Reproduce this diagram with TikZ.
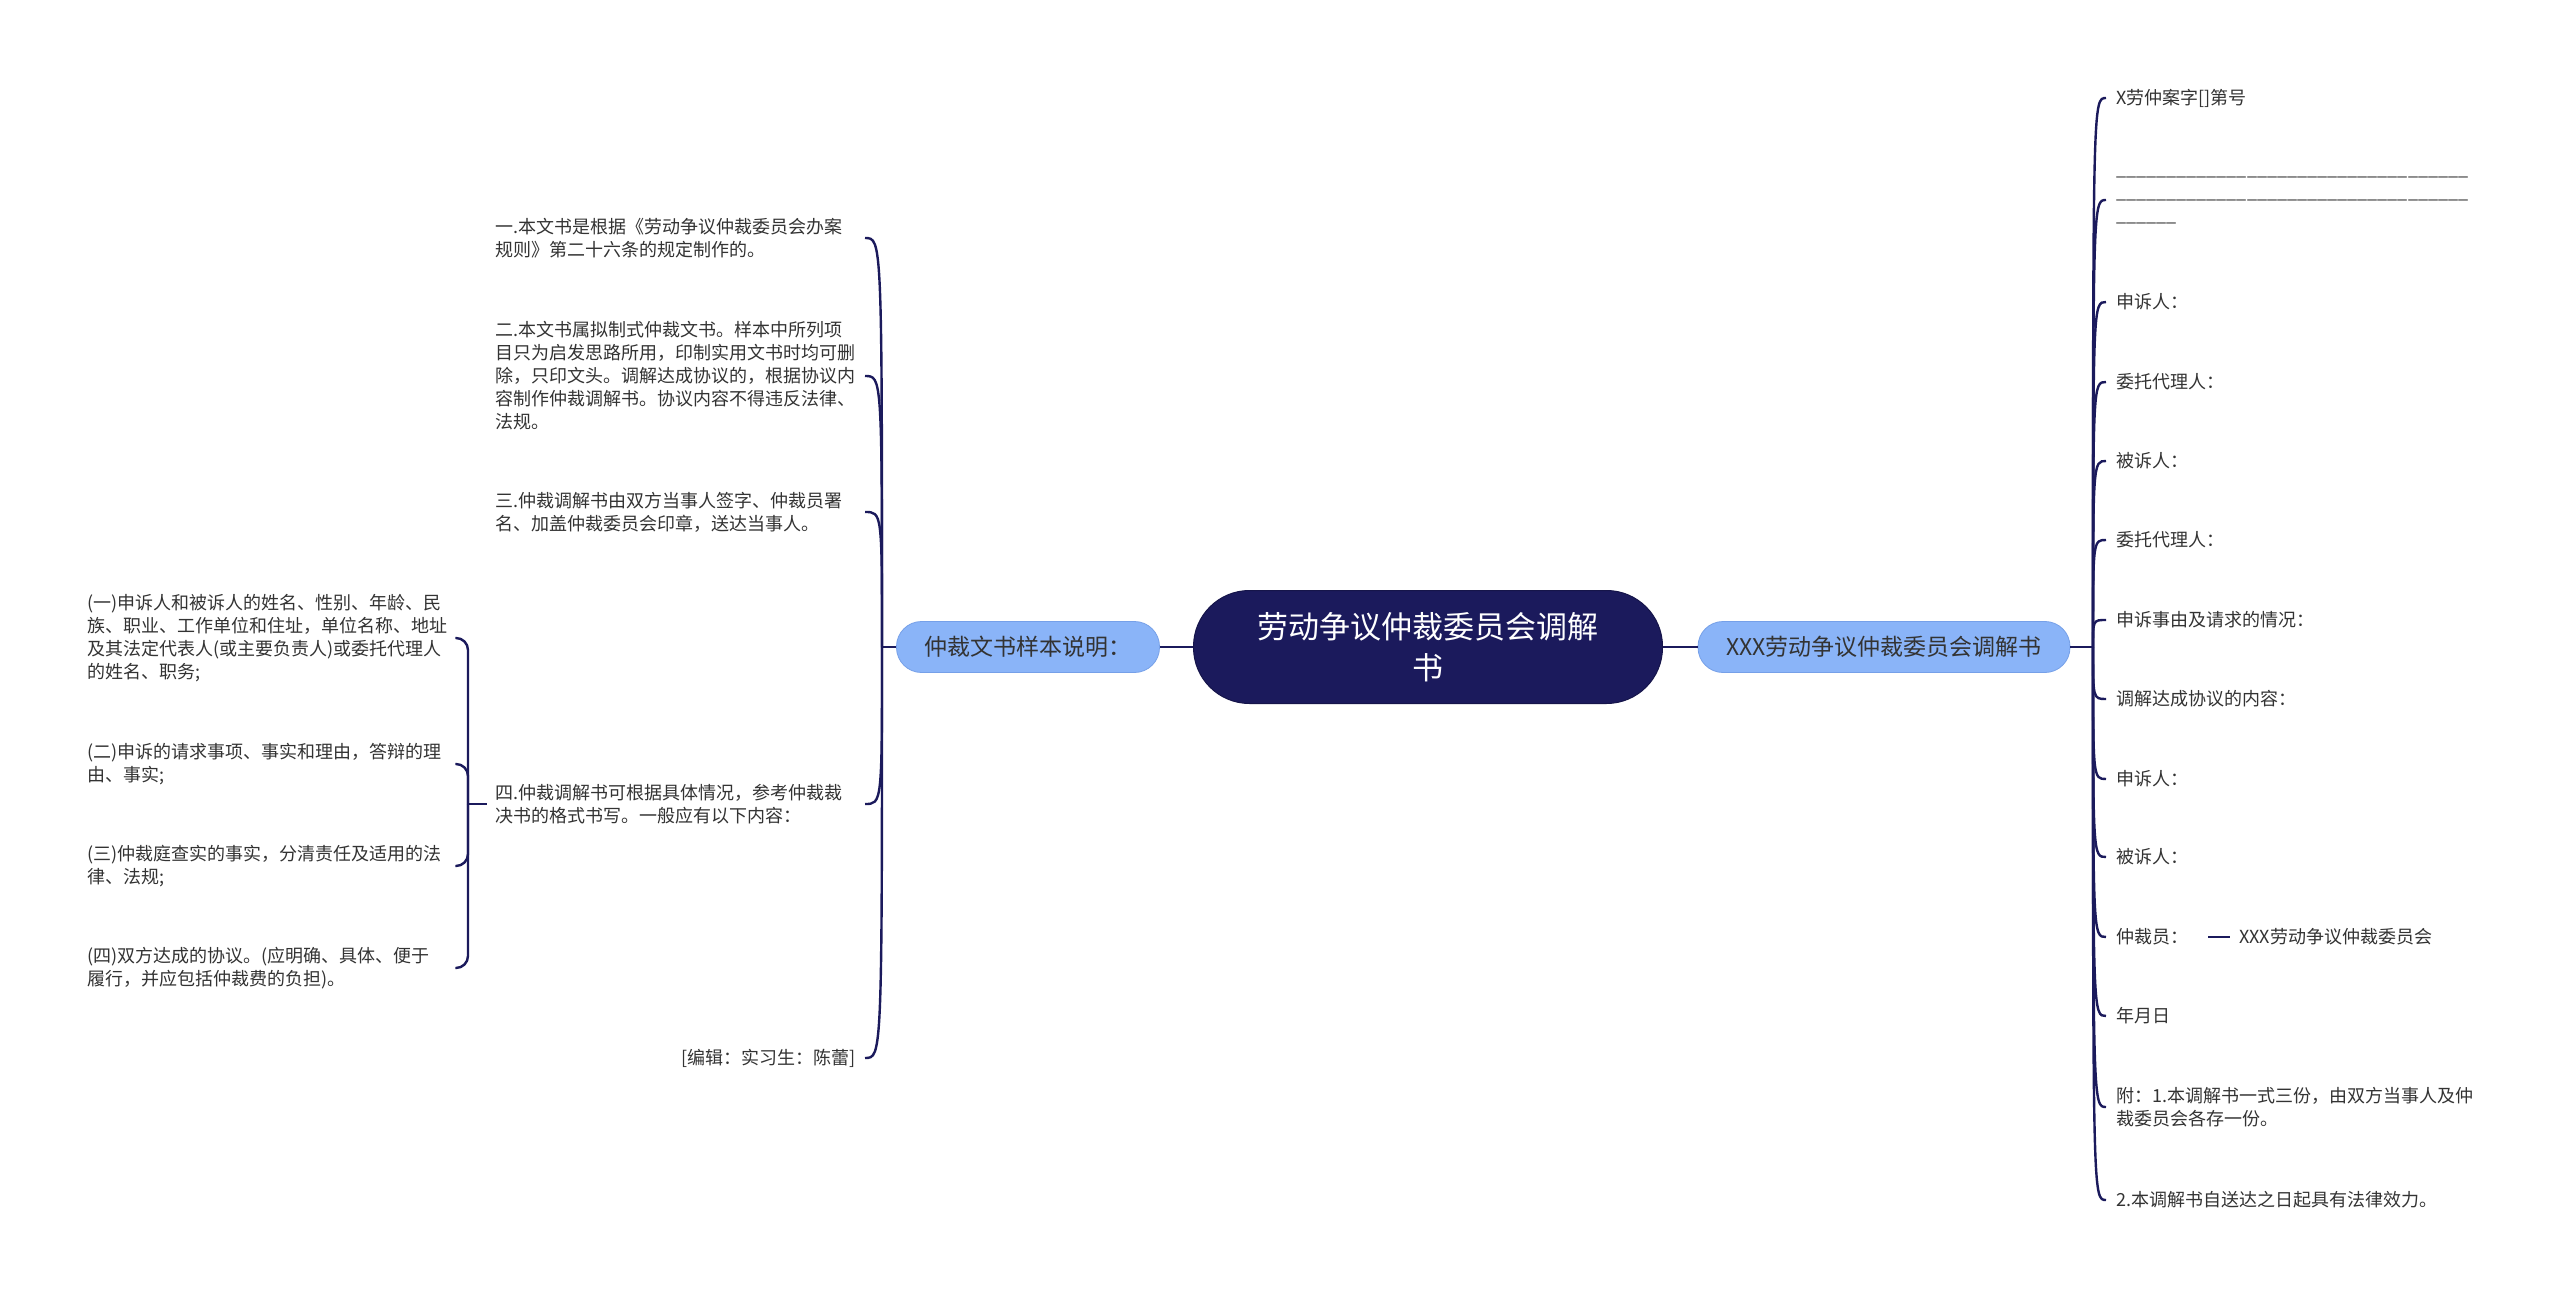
\documentclass[tikz,border=0pt]{standalone}
\usepackage{fontspec}
\setmainfont{Noto Sans CJK SC}
\usetikzlibrary{calc}
\definecolor{navy}{RGB}{27,26,92}
\definecolor{lblue}{RGB}{138,180,248}
\definecolor{lbluedark}{RGB}{118,160,232}
\definecolor{txt}{RGB}{51,51,51}
\begin{document}
\begin{tikzpicture}[x=1pt,y=-1pt,
  conn/.style={draw=navy,line width=2.4pt},
  central/.style={fill=navy,draw=navy!80!black,line width=1pt,rounded corners=56pt,minimum width=469pt,minimum height=113pt,align=center,text=white,font=\fontsize{31}{41}\selectfont},
  mainnode/.style={fill=lblue,draw=lbluedark,line width=0.8pt,rounded corners=25pt,minimum height=51pt,inner xsep=0pt,align=center,text=txt,font=\fontsize{23}{27}\selectfont},
  lleaf/.style={inner xsep=9pt,inner ysep=2pt,text width=360pt,align=left,font=\fontsize{18}{23}\selectfont,text=txt,anchor=east},
  sleaf/.style={inner xsep=4pt,inner ysep=2pt,text width=364pt,align=left,font=\fontsize{18}{23}\selectfont,text=txt,anchor=west},
  rleaf/.style={inner xsep=10pt,inner ysep=2pt,align=left,font=\fontsize{18}{23}\selectfont,text=txt,anchor=west}
]
\useasboundingbox (0,0) rectangle (2560,1297);
\fill[white] (0,0) rectangle (2560,1297);

% central and main nodes
\node[central] (c) at (1428,647) {劳动争议仲裁委员会调解\\书};
\node[mainnode,minimum width=263pt] (L) at (1028,647) {仲裁文书样本说明：};
\node[mainnode,minimum width=372pt] (R) at (1884,647) {XXX劳动争议仲裁委员会调解书};

\draw[conn] (c.west) -- (L.east);
\draw[conn] (c.east) -- (R.west);

% left children
\coordinate (lroot) at (882,647);
\node[lleaf] (l1) at (865,238) {一.本文书是根据《劳动争议仲裁委员会办案\\规则》第二十六条的规定制作的。};
\node[lleaf] (l2) at (865,376) {二.本文书属拟制式仲裁文书。样本中所列项\\目只为启发思路所用，印制实用文书时均可删\\除，只印文头。调解达成协议的，根据协议内\\容制作仲裁调解书。协议内容不得违反法律、\\法规。};
\node[lleaf] (l3) at (865,512) {三.仲裁调解书由双方当事人签字、仲裁员署\\名、加盖仲裁委员会印章，送达当事人。};
\node[lleaf] (l4) at (865,804) {四.仲裁调解书可根据具体情况，参考仲裁裁\\决书的格式书写。一般应有以下内容：};
\node[lleaf,align=right] (l5) at (865,1058) {[编辑：实习生：陈蕾]};

\draw[conn] (L.west) -- (lroot);
\foreach \n in {l1,l2,l3,l4,l5}{
  \draw[conn] (lroot) .. controls (lroot |- \n.east) and (lroot |- \n.east) .. (\n.east);
}

% sub children of l4
\node[sleaf] (s1) at (83,638) {(一)申诉人和被诉人的姓名、性别、年龄、民\\族、职业、工作单位和住址，单位名称、地址\\及其法定代表人(或主要负责人)或委托代理人\\的姓名、职务;};
\node[sleaf] (s2) at (83,764) {(二)申诉的请求事项、事实和理由，答辩的理\\由、事实;};
\node[sleaf] (s3) at (83,866) {(三)仲裁庭查实的事实，分清责任及适用的法\\律、法规;};
\node[sleaf] (s4) at (83,968) {(四)双方达成的协议。(应明确、具体、便于\\履行，并应包括仲裁费的负担)。};
\coordinate (br) at (468,804);
\draw[conn] (l4.west) -- (br);
\foreach \n in {s1,s2,s3,s4}{
  \draw[conn,rounded corners=12pt] (br) |- (\n.east);
}

% right children
\coordinate (rroot) at (2093,647);
\node[rleaf] (r1) at (2106,98) {X劳仲案字[]第号};
\node[rleaf] (r2) at (2106,200) {\_\_\_\_\_\_\_\_\_\_\_\_\_\_\_\_\_\_\_\_\_\_\_\_\_\_\_\_\_\_\_\_\_\_\_\\\_\_\_\_\_\_\_\_\_\_\_\_\_\_\_\_\_\_\_\_\_\_\_\_\_\_\_\_\_\_\_\_\_\_\_\\\_\_\_\_\_\_};
\node[rleaf] (r3) at (2106,302) {申诉人：};
\node[rleaf] (r4) at (2106,382) {委托代理人：};
\node[rleaf] (r5) at (2106,461) {被诉人：};
\node[rleaf] (r6) at (2106,540) {委托代理人：};
\node[rleaf] (r7) at (2106,620) {申诉事由及请求的情况：};
\node[rleaf] (r8) at (2106,699) {调解达成协议的内容：};
\node[rleaf] (r9) at (2106,779) {申诉人：};
\node[rleaf] (r10) at (2106,857) {被诉人：};
\node[rleaf] (r11) at (2106,937) {仲裁员：};
\node[rleaf] (r12) at (2106,1016) {年月日};
\node[rleaf] (r13) at (2106,1107) {附：1.本调解书一式三份，由双方当事人及仲\\裁委员会各存一份。};
\node[rleaf] (r14) at (2106,1200) {2.本调解书自送达之日起具有法律效力。};
\node[rleaf,inner xsep=9pt] (rr) at (2230,937) {XXX劳动争议仲裁委员会};

\draw[conn] (R.east) -- (rroot);
\foreach \n in {r1,r2,r3,r4,r5,r6,r7,r8,r9,r10,r11,r12,r13,r14}{
  \draw[conn] (rroot) .. controls (rroot |- \n.west) and (rroot |- \n.west) .. (\n.west);
}
\draw[conn] ($(r11.east)+(10,0)$) -- (rr.west);
\end{tikzpicture}
\end{document}
